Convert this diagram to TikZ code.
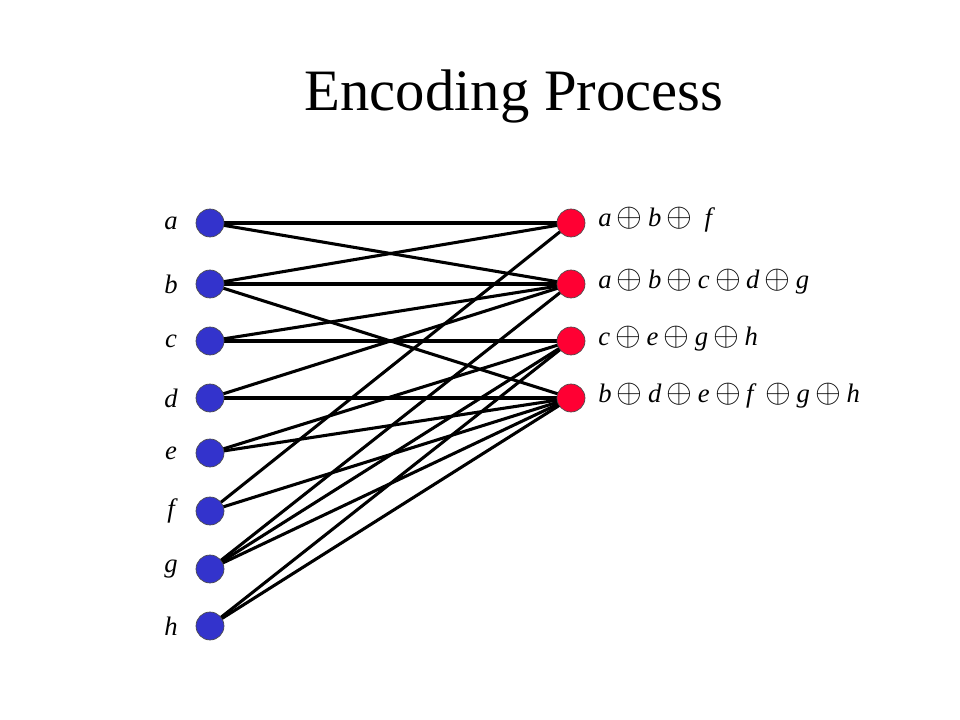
\documentclass[tikz,border=0pt]{standalone}
\usepackage{fontspec}
\setmainfont{Liberation Serif}
\newcommand{\xop}{\hspace{4pt}{\fontsize{24}{24}\selectfont$\oplus$}\hspace{4pt}}
\begin{document}
\begin{tikzpicture}[x=0.75pt,y=-0.75pt,
  lnode/.style={circle,draw=black!70,line width=0.5pt,fill=lblue,minimum size=21pt,inner sep=0pt},
  rnode/.style={circle,draw=black!70,line width=0.5pt,fill=rred,minimum size=21pt,inner sep=0pt},
  lab/.style={font=\fontsize{20}{22}\selectfont\itshape,inner sep=0pt},
  rlab/.style={font=\fontsize{20}{22}\selectfont\itshape,inner sep=0pt,anchor=west},
  edge/.style={line width=2.3pt,black}]
\definecolor{lblue}{HTML}{3333CC}
\definecolor{rred}{HTML}{FF0033}
\useasboundingbox (0,0) rectangle (960,720);
\node[font=\fontsize{44}{48}\selectfont] (title) at (514,96) {Encoding Process};
\foreach \n/\y in {a/223,b/284,c/341,d/398,e/453,f/511,g/569,h/626}{
  \coordinate (L\n) at (210,\y);
}
\foreach \n/\y in {1/223,2/284,3/341,4/398}{
  \coordinate (R\n) at (571,\y);
}
\foreach \s/\t in {a/1,a/2,b/1,b/2,b/4,c/2,c/3,d/2,d/4,e/3,e/4,f/1,f/4,g/2,g/3,g/4,h/3,h/4}{
  \draw[edge] (L\s) -- (R\t);
}
\foreach \n in {a,b,c,d,e,f,g,h}{
  \node[lnode] (n\n) at (L\n) {};
}
\foreach \n in {1,2,3,4}{
  \node[rnode] (r\n) at (R\n) {};
}
\foreach \n in {a,b,c,d,e,f,g,h}{
  \node[lab] at ([xshift=-39*0.75pt]L\n) {\n};
}
\node[rlab] (t1) at (598,220) {a\xop b\xop\ f};
\node[rlab] (t2) at (598,282) {a\xop b\xop c\xop d\xop g};
\node[rlab] (t3) at (598,339) {c\xop e\xop g\xop h};
\node[rlab] (t4) at (598,396) {b\xop d\xop e\xop f\ \xop g\xop h};
\end{tikzpicture}
\end{document}
